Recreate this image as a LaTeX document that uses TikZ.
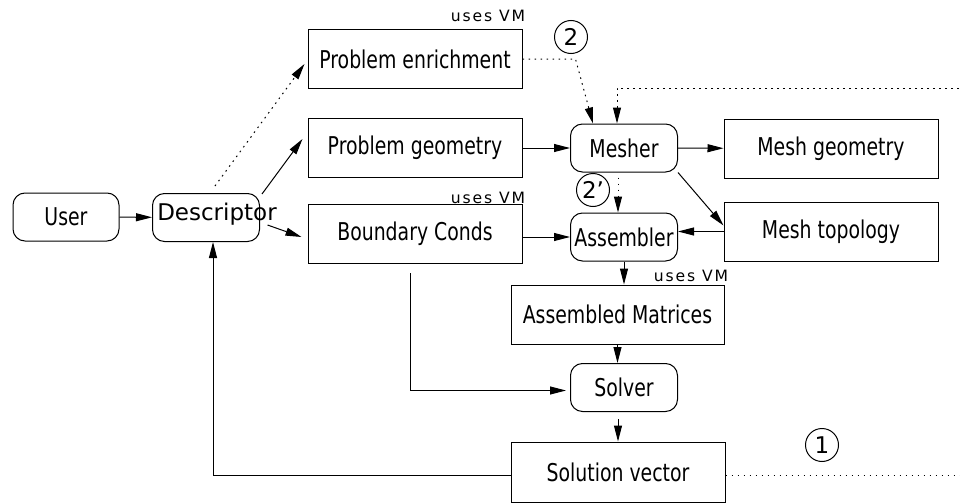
\documentclass[tikz,border=0pt]{standalone}
\usepackage{fontspec}
\setmainfont{DejaVu Sans}
\newfontfamily\boxfont[FakeStretch=0.77]{DejaVu Sans}
\newfontfamily\vmfont[LetterSpace=12]{DejaVu Sans}
\usetikzlibrary{arrows.meta,calc}

\newcommand{\usesvm}[2]{
  \node[vm] (#1) at (#2) {uses VM};
}

\begin{document}
\begin{tikzpicture}[x=0.5pt,y=-0.5pt,line width=0.5pt,
  box/.style={draw,inner sep=0pt,minimum width=107pt,minimum height=29.5pt,
    font=\boxfont\fontsize{12.25}{14}\selectfont},
  rbox/.style={box,rounded corners=6pt,minimum width=53.5pt,minimum height=24pt},
  arr/.style={-{Triangle[length=8pt,width=4pt]}},
  dotline/.style={dash pattern=on 0.8pt off 2.2pt},
  num/.style={draw,circle,inner sep=0pt,minimum size=16.5pt,font=\fontsize{11.5}{13}\selectfont},
  vm/.style={font=\vmfont\fontsize{7.8}{9}\selectfont}]
\useasboundingbox (0,0) rectangle (960,503);
\clip (0,0) rectangle (960,503);

% boxes
\node[rbox,minimum width=53pt] (user) at (66,217) {User};
\node[rbox] (desc) at (206,217.5) {};
\node[font=\fontsize{11.5}{13}\selectfont] (desc-text) at (217,214) {Descriptor};
\node[box] (enrich) at (415,59) {Problem enrichment};
\node[box] (pgeom) at (415,148) {Problem geometry};
\node[box] (bconds) at (415,234) {Boundary Conds};
\node[rbox] (mesher) at (624,148) {Mesher};
\node[box] (mgeom) at (831,148.5) {Mesh geometry};
\node[box] (mtopo) at (831,231.5) {Mesh topology};
\node[rbox] (assembler) at (624,237) {Assembler};
\node[box,minimum width=106.5pt] (matrices) at (617.5,314.5) {Assembled Matrices};
\node[rbox] (solver) at (624,387.5) {Solver};
\node[box,minimum height=30pt] (solution) at (618,472) {Solution vector};

\usesvm{vm-enrich}{488,16}
\usesvm{vm-bconds}{488,198}
\usesvm{vm-matrices}{691,276}

\node[num] (n2) at (571,37) {2};
\node[num] (n2p) at (593,190) {2’};
\node[num] (n1) at (822,445) {1};

\coordinate (mesh-feed) at (965,88);
\coordinate (far-right) at (965,0);

% arrows
\draw[arr] (user) -- (desc);
\draw[arr,dotline] ($(desc.north)+(9,-7)$) -- ($(enrich.west)+(-3,5)$);
\draw[arr] ($(desc.north east)+(2,1)$) -- ($(pgeom.west)+(-5,-9)$);
\draw[arr] ($(desc.east)+(7.5,7.5)$) -- ($(bconds.west)+(-6,3)$);
\draw[arr,dotline] (enrich.east) -- ++(53,0) -- ($(mesher.north)+(-31,0)$);
\draw[arr,dotline] (mesh-feed) -| ($(mesher.north)+(-7,0)$);
\draw[arr] (pgeom) -- (mesher);
\draw[arr] (mesher) -- (mgeom);
\draw[arr] (mesher.south east) -- ($(mtopo.west)+(0,-6)$);
\draw[arr] (mtopo.west) -- (mtopo.west -| assembler.east);
\draw[arr] (bconds.east |- assembler.west) -- (assembler.west);
\draw[arr,dotline] ($(mesher.south)+(-6,5)$) -- ($(assembler.north)+(-6,0)$);
\draw[arr] (assembler.south) -- (assembler.south |- matrices.north);
\draw[arr] (matrices.south) -- (matrices.south |- solver.north);
\draw[arr] ($(bconds.south)+(-5,9)$) |- ($(solver.west)+(-4,3)$);
\draw[arr] ($(solver.south)+(-6,7)$) -- (solution.north);
\draw[arr] ($(solution.west)+(0,3)$) -| ($(desc.south)+(7,0)$);
%\draw (solution.east) -- (far-right);
\draw[dotline] ($(solution.east)+(0,3)$) -- ($(solution.east -| far-right)+(0,3)$);
\end{tikzpicture}
\end{document}
